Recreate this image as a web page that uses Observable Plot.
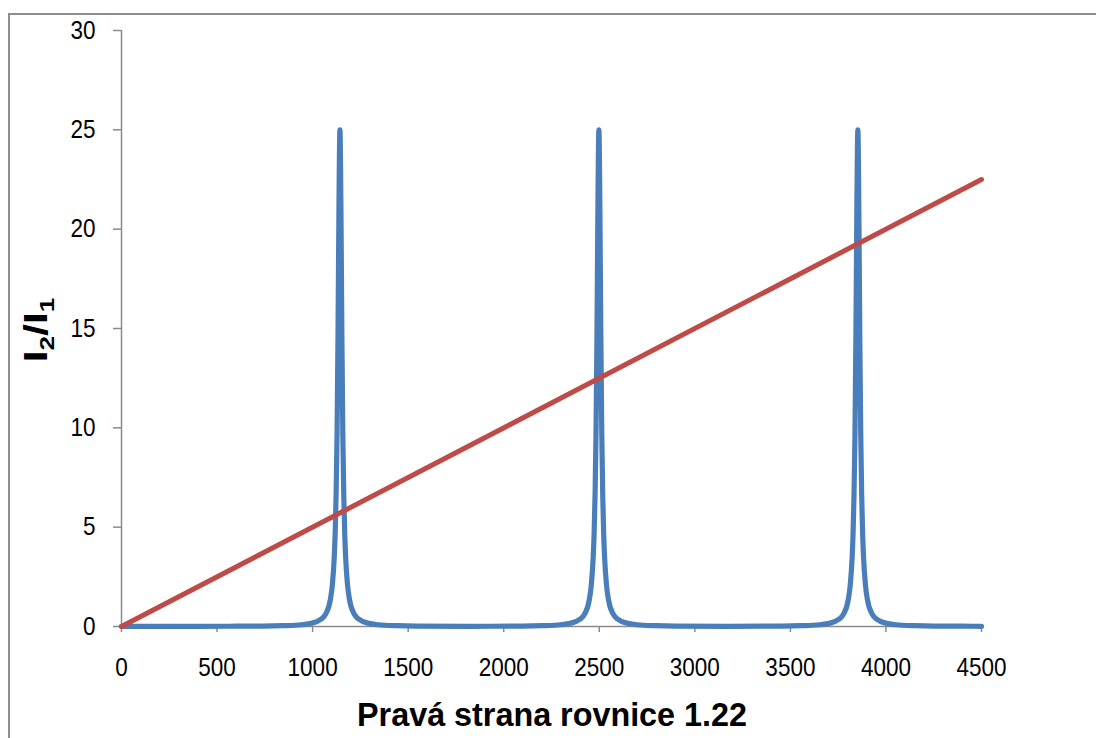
<!DOCTYPE html>
<html><head><meta charset="utf-8">
<script src="https://cdn.jsdelivr.net/npm/d3@7"></script>
<script src="https://cdn.jsdelivr.net/npm/@observablehq/plot@0.6"></script>
<style>
html,body{margin:0;padding:0;background:#fff;overflow:hidden;}
#wrap{position:relative;width:1096px;height:738px;}
#frame{position:absolute;left:8px;top:13px;width:1200px;height:900px;border-left:2px solid #8e8e8e;border-top:2px solid #8e8e8e;pointer-events:none;}
</style></head><body><div id="wrap"><div id="frame"></div></div>
<script>
// Blue series (I2/I1 transmission curve)
const blueX = [
  0, 200, 400, 600,
  743, 843, 943, 993, 1043, 1068, 1093, 1103, 1113, 1118, 1123, 1128, 1133, 1138, 1143,
  1148, 1153, 1158, 1163, 1168, 1173, 1183, 1193, 1218, 1243, 1293, 1343, 1443, 1543,
  1820,
  2098, 2198, 2298, 2348, 2398, 2423, 2448, 2458, 2468, 2473, 2478, 2483, 2488, 2493, 2498,
  2503, 2508, 2513, 2518, 2523, 2528, 2538, 2548, 2573, 2598, 2648, 2698, 2798, 2898,
  3175,
  3453, 3553, 3653, 3703, 3753, 3778, 3803, 3813, 3823, 3828, 3833, 3838, 3843, 3848, 3853,
  3858, 3863, 3868, 3873, 3878, 3883, 3893, 3903, 3928, 3953, 4003, 4053, 4153, 4253,
  4400, 4500
];
const blueY = [
  0.01, 0.01, 0.01, 0.015,
  0.02, 0.04, 0.09, 0.16, 0.36, 0.62, 1.36, 2.07, 3.45, 4.68, 6.62, 9.76, 14.8, 21.3, 25,
  21.3, 14.8, 9.76, 6.62, 4.68, 3.45, 2.07, 1.36, 0.62, 0.36, 0.16, 0.09, 0.04, 0.02,
  0.01,
  0.02, 0.04, 0.09, 0.16, 0.36, 0.62, 1.36, 2.07, 3.45, 4.68, 6.62, 9.76, 14.8, 21.3, 25,
  21.3, 14.8, 9.76, 6.62, 4.68, 3.45, 2.07, 1.36, 0.62, 0.36, 0.16, 0.09, 0.04, 0.02,
  0.01,
  0.02, 0.04, 0.09, 0.16, 0.36, 0.62, 1.36, 2.07, 3.45, 4.68, 6.62, 9.76, 14.8, 21.3, 25,
  21.3, 14.8, 9.76, 6.62, 4.68, 3.45, 2.07, 1.36, 0.62, 0.36, 0.16, 0.09, 0.04, 0.02,
  0.015, 0.01
];
// Red series (straight line)
const redX = [0, 4500];
const redY = [0, 22.5];

const xTicks = [0, 500, 1000, 1500, 2000, 2500, 3000, 3500, 4000, 4500];
const yTicks = [0, 5, 10, 15, 20, 25, 30];
const xTitle = "Pravá strana rovnice 1.22";
const yTitleParts = ["I", "2", "/I", "1"];

const blue = blueX.map((x, i) => ({x, y: blueY[i]}));
const red = redX.map((x, i) => ({x, y: redY[i]}));

const FONT = "'Liberation Sans', Arial, sans-serif";

const chart = Plot.plot({
  width: 1096,
  height: 738,
  marginLeft: 121,
  marginRight: 115,
  marginTop: 30,
  marginBottom: 112,
  style: {fontFamily: FONT, fontSize: "25px", color: "#000", background: "transparent", overflow: "visible"},
  x: {domain: [0, 4500], ticks: xTicks, tickFormat: d => String(d), label: null},
  y: {domain: [0, 30], ticks: yTicks, tickFormat: d => String(d), label: null},
  marks: [
    Plot.ruleX([0], {stroke: "#8a8a8a", strokeWidth: 1.5}),
    Plot.ruleY([0], {stroke: "#8a8a8a", strokeWidth: 1.5}),
    Plot.axisX({ticks: xTicks, tickFormat: d => String(d), tickSize: 6, tickPadding: 26, stroke: "#8a8a8a", strokeWidth: 1.5, fill: "#000", label: null}),
    Plot.axisY({ticks: yTicks, tickFormat: d => String(d), tickSize: 8, tickPadding: 18, stroke: "#8a8a8a", strokeWidth: 1.5, fill: "#000", label: null}),
    Plot.line(blue, {x: "x", y: "y", stroke: "#4a7ebb", strokeWidth: 5.2, curve: "monotone-x", strokeLinecap: "round", strokeLinejoin: "round"}),
    Plot.line(red, {x: "x", y: "y", stroke: "#be4b48", strokeWidth: 5, strokeLinecap: "round"})
  ]
});

const wrap = document.getElementById("wrap");
chart.style.position = "absolute";
chart.style.left = "0px";
chart.style.top = "0px";
wrap.appendChild(chart);

// Condense tick labels horizontally (narrow face look)
chart.querySelectorAll('g[aria-label$="tick label"] text').forEach(el => {
  try {
    const len = el.getComputedTextLength();
    if (len > 0) {
      el.setAttribute("textLength", (len * 0.9).toFixed(2));
      el.setAttribute("lengthAdjust", "spacingAndGlyphs");
    }
  } catch (e) {}
});

// Axis titles
const svg = d3.select(chart);
svg.append("text")
  .attr("transform", "translate(552,726) scale(0.98,1)")
  .attr("text-anchor", "middle")
  .attr("font-family", FONT)
  .attr("font-weight", "bold")
  .attr("font-size", 33)
  .attr("fill", "#000")
  .text(xTitle);

const yt = svg.append("text")
  .attr("transform", "translate(47,330) rotate(-90) scale(1.25,1)")
  .attr("text-anchor", "middle")
  .attr("font-family", FONT)
  .attr("font-weight", "bold")
  .attr("font-size", 34)
  .attr("fill", "#000");
yt.append("tspan").text(yTitleParts[0]);
yt.append("tspan").attr("font-size", 21).attr("dy", 7).text(yTitleParts[1]);
yt.append("tspan").attr("dy", -7).text(yTitleParts[2]);
yt.append("tspan").attr("font-size", 21).attr("dy", 7).text(yTitleParts[3]);
</script>
</body></html>
